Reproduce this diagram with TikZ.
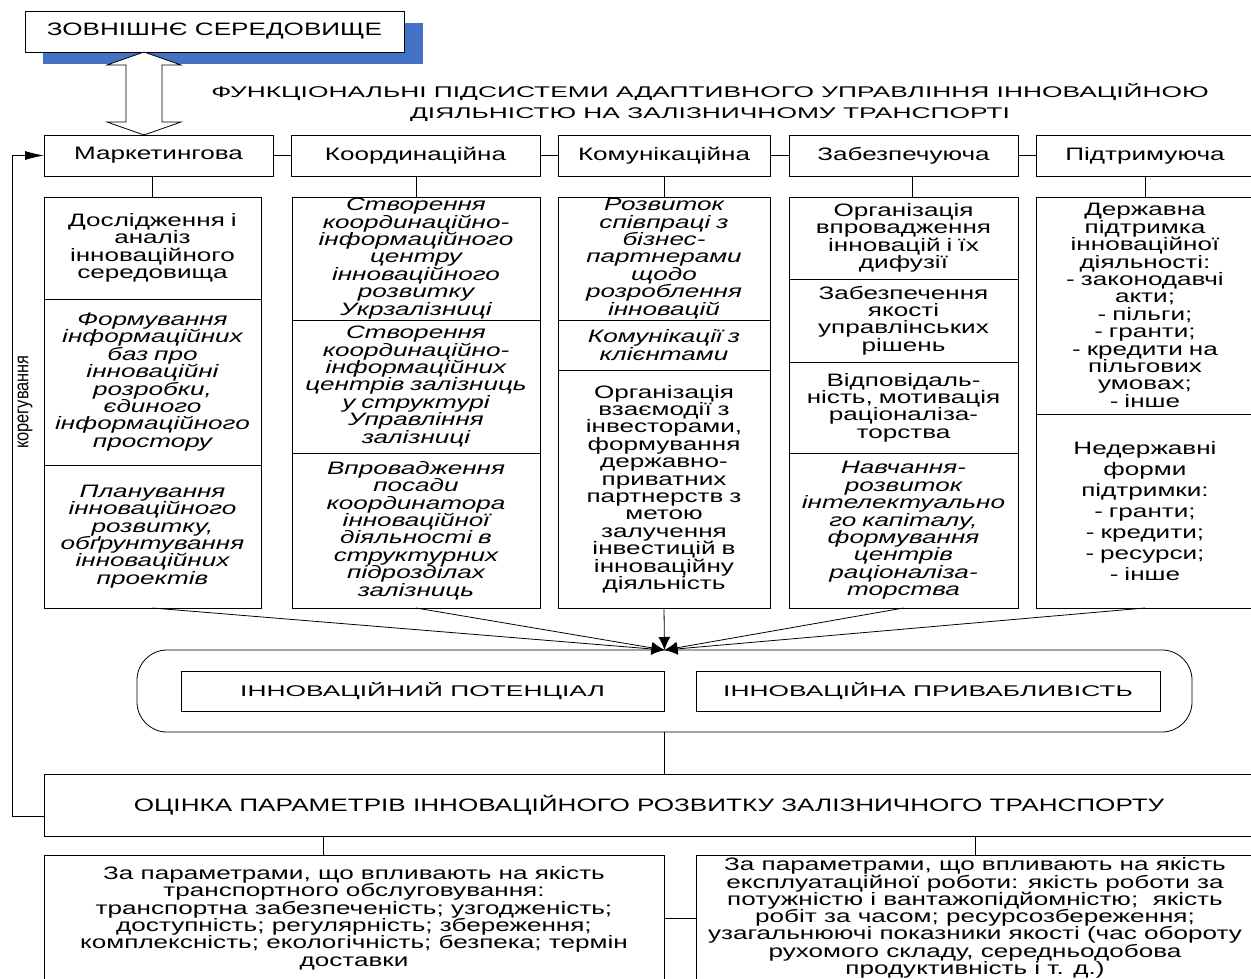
\documentclass[tikz,border=0pt]{standalone}
\usepackage{fontspec}
\setmainfont{Liberation Sans}[FakeStretch=1.45]
\newfontfamily\titlefont{Liberation Sans}[FakeStretch=1.7]
\newfontfamily\narrowfont{Liberation Sans}[FakeStretch=0.82]
\usetikzlibrary{arrows.meta,positioning,calc,backgrounds}
\setlength{\lineskiplimit}{-20pt}
\definecolor{envblue}{RGB}{68,114,196}

\begin{document}
\begin{tikzpicture}[
  x=1pt, y=-1pt,
  >={Latex[length=13pt,width=12pt]},
  line width=0.8pt,
  every node/.style={inner sep=0pt, outer sep=0pt},
  txt/.style={font=\fontsize{18}{17.4}\selectfont},
  itxt/.style={font=\fontsize{18}{17.4}\selectfont\itshape},
  hdr/.style={draw, fill=white, minimum height=41, anchor=north west,
              font=\fontsize{18}{20}\selectfont},
  cell/.style={draw, align=center},
  col1/.style={cell, minimum width=217, text width=211},
  col2/.style={cell, minimum width=248, text width=242},
  col3/.style={cell, minimum width=212, text width=206},
  col4/.style={cell, minimum width=229, text width=223},
  col5/.style={cell, minimum width=218, text width=212},
  caps/.style={draw, minimum height=40, font=\titlefont\fontsize{15.5}{18}\selectfont},
]
\useasboundingbox (0,0) rectangle (1251,978);
\clip (0,0) rectangle (1251,978);

% external environment
\node[draw, fill=white, minimum width=379, minimum height=41, anchor=north west,
      font=\fontsize{18}{20}\selectfont] (env) at (25,11) {ЗОВНІШНЄ СЕРЕДОВИЩЕ};
\begin{scope}[on background layer]
  \fill[envblue] ([shift={(18,12)}]env.north west) rectangle ([shift={(19,12)}]env.south east);
\end{scope}

\node[font=\titlefont\fontsize{15.5}{21}\selectfont, align=center] (ttl) at (710,102.5)
  {ФУНКЦІОНАЛЬНІ ПІДСИСТЕМИ АДАПТИВНОГО УПРАВЛІННЯ ІННОВАЦІЙНОЮ\\
   ДІЯЛЬНІСТЮ НА ЗАЛІЗНИЧНОМУ ТРАНСПОРТІ};

% subsystems
\node[hdr, minimum width=229] (mkt) at (44,135) {Маркетингова};
\node[hdr, minimum width=249] (crd) at (291,135) {Координаційна};
\node[hdr, minimum width=212] (com) at (558,135) {Комунікаційна};
\node[hdr, minimum width=229] (sup) at (789,135) {Забезпечуюча};
\node[hdr, minimum width=218] (pdt) at (1036,135) {Підтримуюча};

\draw (mkt) -- (crd);
\draw (crd) -- (com);
\draw (com) -- (sup);
\draw (sup) -- (pdt);

% two-way link with the environment
\coordinate (up) at (144,52);
\coordinate (dn) at (144,135);
\draw[fill=white] (up) -- ++(37,13) -- ++(-19,0) -- ++(0,57) -- ++(19,0) -- (dn)
  -- ++(-37,-13) -- ++(19,0) -- ++(0,-57) -- ++(-19,0) -- cycle;

% column 1
\node[col1, txt, minimum height=102, anchor=north west] (c11) at (44,197)
  {Дослідження і\\аналіз\\інноваційного\\середовища};
\node[col1, itxt, minimum height=166, below=0pt of c11] (c12)
  {Формування\\інформаційних\\баз про\\інноваційні\\розробки,\\єдиного\\інформаційного\\простору};
\node[col1, itxt, minimum height=143, below=0pt of c12] (c13)
  {Планування\\інноваційного\\розвитку,\\обґрунтування\\інноваційних\\проектів};

% column 2
\node[col2, itxt, minimum height=123, anchor=north west] (c21) at (292,197)
  {Створення\\координаційно-\\інформаційного\\центру\\інноваційного\\розвитку\\Укрзалізниці};
\node[col2, itxt, minimum height=133, below=0pt of c21] (c22)
  {Створення\\координаційно-\\інформаційних\\центрів залізниць\\у структурі\\Управління\\залізниці};
\node[col2, itxt, minimum height=155, below=0pt of c22] (c23)
  {Впровадження\\посади\\координатора\\інноваційної\\діяльності в\\структурних\\підрозділах\\залізниць};

% column 3
\node[col3, itxt, minimum height=123, anchor=north west] (c31) at (558,197)
  {Розвиток\\співпраці з\\бізнес-\\партнерами\\щодо\\розроблення\\інновацій};
\node[col3, itxt, minimum height=50, below=0pt of c31] (c32)
  {Комунікації з\\клієнтами};
\node[col3, txt, minimum height=238, below=0pt of c32] (c33)
  {Організація\\взаємодії з\\інвесторами,\\формування\\державно-\\приватних\\партнерств з\\метою\\залучення\\інвестицій в\\інноваційну\\діяльність};

% column 4
\node[col4, txt, minimum height=82, anchor=north west] (c41) at (789,197)
  {Організація\\впровадження\\інновацій і їх\\дифузії};
\node[col4, txt, minimum height=83, below=0pt of c41] (c42)
  {Забезпечення\\якості\\управлінських\\рішень};
\node[col4, txt, minimum height=91, below=0pt of c42] (c43)
  {Відповідаль-\\ність, мотивація\\раціоналіза-\\торства};
\node[col4, itxt, minimum height=155, below=0pt of c43] (c44)
  {Навчання-\\розвиток\\інтелектуально\\го капіталу,\\формування\\центрів\\раціоналіза-\\торства};

% column 5
\node[col5, txt, minimum height=217, anchor=north west] (c51) at (1036,197)
  {Державна\\підтримка\\інноваційної\\діяльності:\\- законодавчі\\акти;\\- пільги;\\- гранти;\\- кредити на\\пільгових\\умовах;\\- інше};
\node[col5, font=\fontsize{18}{21}\selectfont, minimum height=194, below=0pt of c51] (c52)
  {Недержавні\\форми\\підтримки:\\- гранти;\\- кредити;\\- ресурси;\\- інше};

\draw (c11.north) -- (c11.north |- mkt.south);
\draw (c21.north) -- (c21.north |- crd.south);
\draw (c31.north) -- (c31.north |- com.south);
\draw ([xshift=9pt]c41.north) -- ([xshift=9pt]c41.north |- sup.south);
\draw (c51.north) -- (c51.north |- pdt.south);

% innovation potential and attractiveness
\node[draw, rounded corners=30pt, minimum width=1055, minimum height=82] (pot) at (664.5,691) {};
\node[caps, minimum width=483] (ipot) at (422.5,691) {ІННОВАЦІЙНИЙ ПОТЕНЦІАЛ};
\node[caps, minimum width=464] (iatt) at (928,691) {ІННОВАЦІЙНА ПРИВАБЛИВІСТЬ};

\draw[->] (c13.south) -- (pot.north);
\draw[->] (c23.south) -- (pot.north);
\draw[->] (c33.south) -- (pot.north);
\draw[->] (c44.south) -- (pot.north);
\draw[->] (c52.south) -- (pot.north);

% assessment
\node[draw, minimum width=1210, minimum height=62, font=\fontsize{18}{20}\selectfont]
  (ocn) at (649,805) {ОЦІНКА ПАРАМЕТРІВ ІННОВАЦІЙНОГО РОЗВИТКУ ЗАЛІЗНИЧНОГО ТРАНСПОРТУ};
\draw (pot.south) -- (pot.south |- ocn.north);

% feedback loop
\draw[-{Latex[length=19pt,width=9pt]}] ([yshift=-11pt]ocn.west) -- ++(-32,0) |- (mkt.west);
\node[rotate=90, font=\narrowfont\fontsize{20}{22}\selectfont] (korr) at (25,402) {корегування};

% parameter groups
\node[cell, txt, minimum width=620, minimum height=125] (bl) at (354,918)
  {За параметрами, що впливають на якість\\транспортного обслуговування:\\транспортна забезпеченість; узгодженість;\\доступність; регулярність; збереження;\\комплексність; екологічність; безпека; термін\\доставки};
\node[cell, font=\fontsize{18}{17.3}\selectfont, minimum width=558, minimum height=125] (br) at (975,918)
  {За параметрами, що впливають на якість\\експлуатаційної роботи: якість роботи за\\потужністю і вантажопідйомністю;~ якість\\робіт за часом; ресурсозбереження;\\узагальнюючі показники якості (час обороту\\рухомого складу, середньодобова\\продуктивність і т. д.)};

\draw ([xshift=-31pt]bl.north) -- ([xshift=-31pt]bl.north |- ocn.south);
\draw (br.north) -- (br.north |- ocn.south);
\draw (bl) -- (br);
\end{tikzpicture}
\end{document}
